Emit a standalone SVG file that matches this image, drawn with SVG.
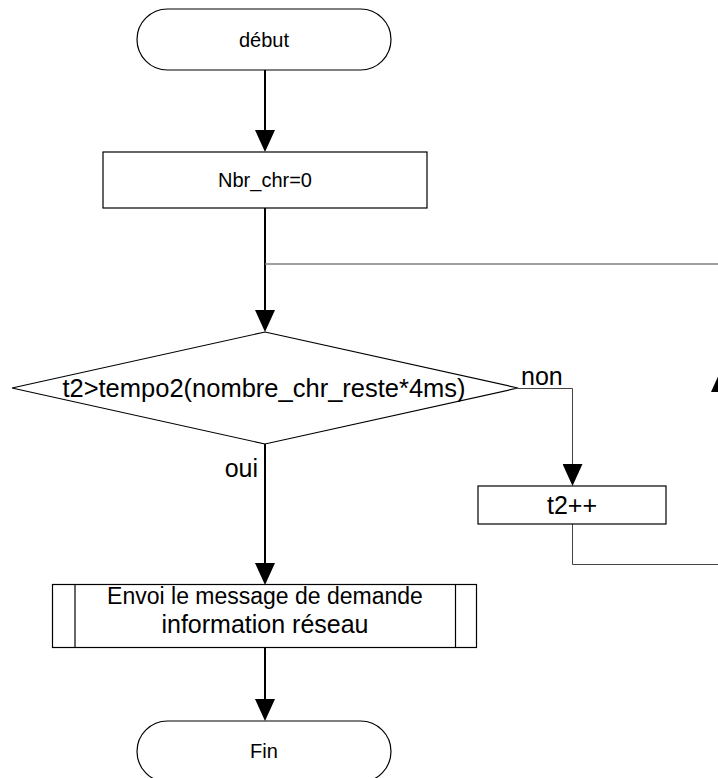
<svg xmlns="http://www.w3.org/2000/svg" width="718" height="778" viewBox="0 0 718 778">
  <style>
    .shape { fill: #ffffff; stroke: #000000; stroke-width: 1.2; }
    .label { font-family: "Liberation Sans", Arial, sans-serif; fill: #000000; text-anchor: middle; }
    .small { font-size: 20px; }
    .big { font-size: 25px; }
    .flow { fill: none; stroke: #000000; stroke-width: 2; }
    .loop { fill: none; stroke: #444444; stroke-width: 1; }
    .loop-top { fill: none; stroke: #808080; stroke-width: 1.5; }
  </style>
  <defs>
    <marker id="arrow" viewBox="0 0 22 20" refX="0" refY="10" markerWidth="22" markerHeight="20" markerUnits="userSpaceOnUse" orient="auto">
      <path d="M0,0 L22,10 L0,20 Z" fill="#000000"/>
    </marker>
  </defs>

  <rect width="718" height="778" fill="#ffffff"/>

  <!-- connectors -->
  <g id="connectors">
    <path class="flow" d="M265,70 V130" marker-end="url(#arrow)"/>
    <path class="flow" d="M265,208 V310" marker-end="url(#arrow)"/>
    <path class="flow" d="M265,444 V563" marker-end="url(#arrow)"/>
    <path class="flow" d="M265,647 V699" marker-end="url(#arrow)"/>
    <!-- "non" branch -->
    <path class="loop" d="M518,388.5 H572.5 V464" marker-end="url(#arrow)"/>
    <!-- loop back from t2++ -->
    <path class="loop" d="M572.5,524 V564.5 H721 V392" marker-end="url(#arrow)"/>
    <path class="loop" d="M721,370 V264"/>
    <path class="loop-top" d="M721,264 H265"/>
    <text class="label big" x="521" y="385" style="text-anchor:start">non</text>
    <text class="label big" x="258" y="477" style="text-anchor:end">oui</text>
  </g>

  <g id="debut">
    <rect class="shape" x="137" y="9" width="254" height="61" rx="30.5" ry="30.5"/>
    <text class="label small" x="264" y="47">début</text>
  </g>

  <g id="init">
    <rect class="shape" x="103" y="152" width="324" height="56"/>
    <text class="label small" x="265" y="187">Nbr_chr=0</text>
  </g>

  <g id="test">
    <polygon class="shape" points="265,332 518,388 265,444 12,388"/>
    <text class="label big" x="264" y="397" style="font-size:25.5px">t2&gt;tempo2(nombre_chr_reste*4ms)</text>
  </g>

  <g id="increment">
    <rect class="shape" x="478" y="486" width="188" height="38"/>
    <text class="label big" x="572" y="514">t2++</text>
  </g>

  <g id="envoi">
    <rect class="shape" x="52.5" y="584.5" width="424" height="63"/>
    <line class="shape" x1="75" y1="584.5" x2="75" y2="647.5"/>
    <line class="shape" x1="455.5" y1="584.5" x2="455.5" y2="647.5"/>
    <text class="label big" x="265" y="604" style="font-size:23px">Envoi le message de demande</text>
    <text class="label big" x="265" y="633" style="font-size:25px">information réseau</text>
  </g>

  <g id="fin">
    <rect class="shape" x="137" y="721" width="254" height="61" rx="30.5" ry="30.5"/>
    <text class="label small" x="264" y="758">Fin</text>
  </g>
</svg>
